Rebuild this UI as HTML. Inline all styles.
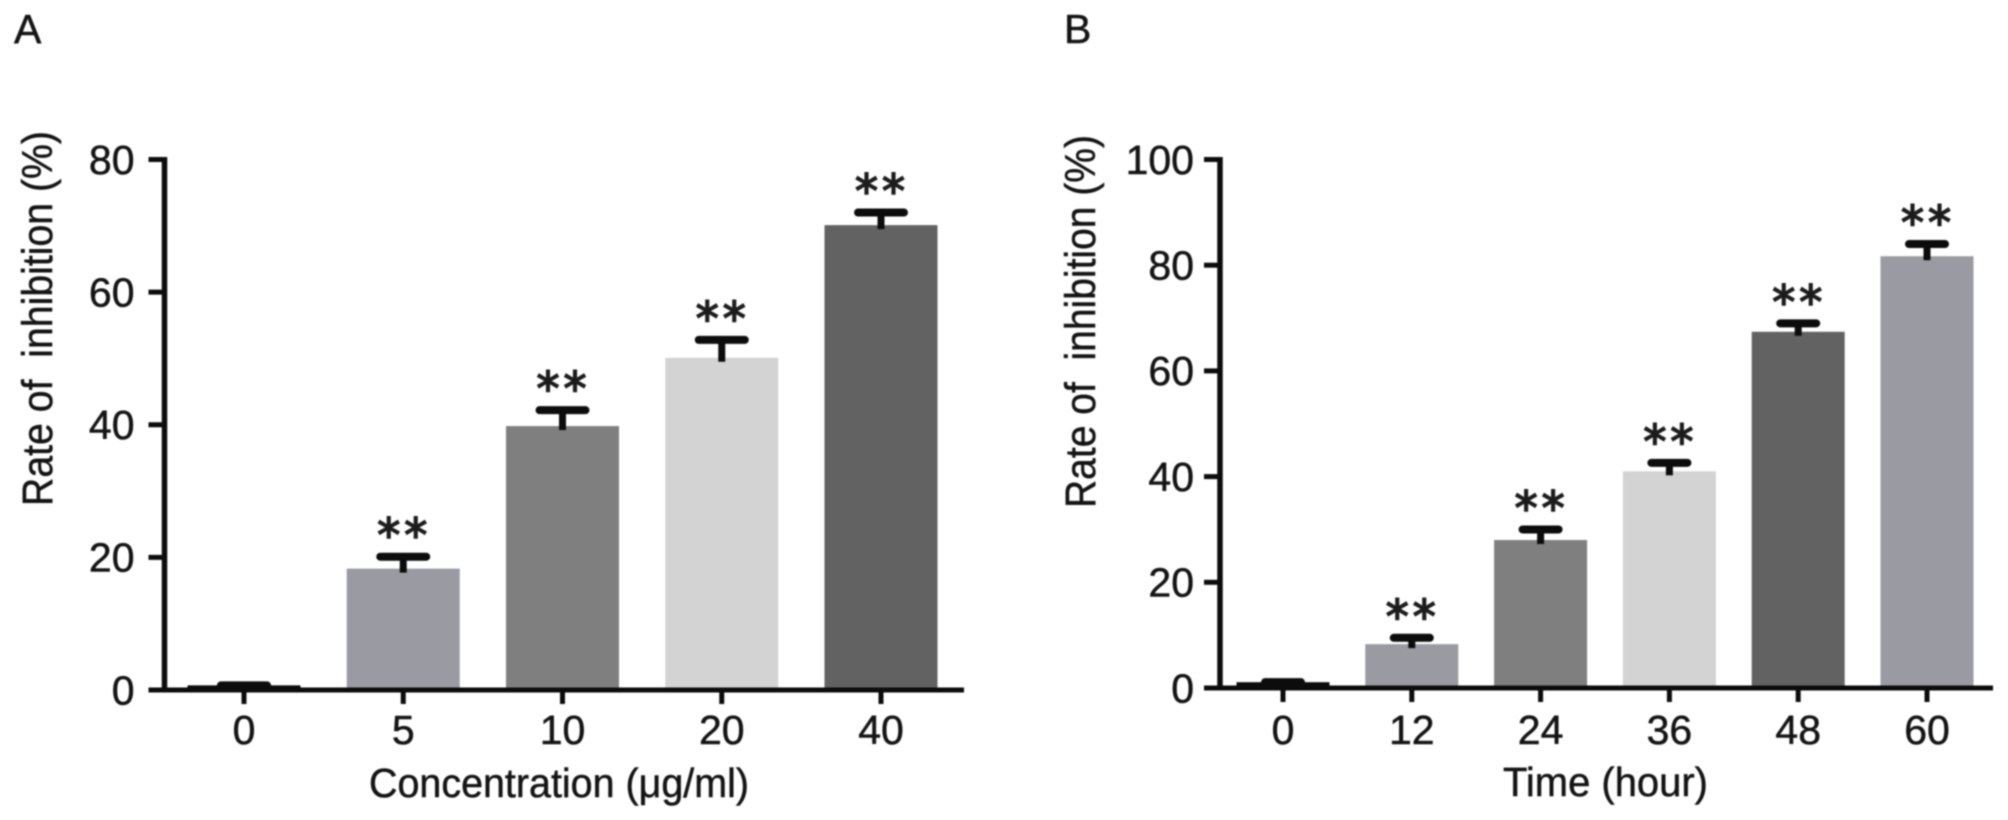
<!DOCTYPE html>
<html lang="en">
<head>
<meta charset="utf-8">
<title>Rate of inhibition charts</title>
<style>
html,body{margin:0;padding:0;background:#fff;width:2008px;height:820px;overflow:hidden}
svg{display:block;filter:blur(0.8px)}
text{font-family:"Liberation Sans",sans-serif;fill:#141414;stroke:#141414;stroke-width:0.5px}
</style>
</head>
<body>
<svg id="figure" width="2008" height="820" viewBox="0 0 2008 820" xmlns="http://www.w3.org/2000/svg">
<rect width="2008" height="820" fill="#fff"/>
<text x="14" y="43" font-size="41">A</text>
<text x="1064" y="43" font-size="41">B</text>
<text transform="translate(52,318.5) rotate(-90)" text-anchor="middle" font-size="43" textLength="375" lengthAdjust="spacingAndGlyphs">Rate of&#160;&#160;inhibition (%)</text>
<text x="559" y="797" text-anchor="middle" font-size="41" textLength="380" lengthAdjust="spacingAndGlyphs">Concentration (μg/ml)</text>
<text transform="translate(1095,321.5) rotate(-90)" text-anchor="middle" font-size="43" textLength="373" lengthAdjust="spacingAndGlyphs">Rate of&#160;&#160;inhibition (%)</text>
<text x="1605.5" y="796" text-anchor="middle" font-size="41" textLength="205" lengthAdjust="spacingAndGlyphs">Time (hour)</text>
<g id="panel-a"></g>
<g id="panel-b"></g>
</svg>
<script>
const categoriesA = ['0', '5', '10', '20', '40'];
const valuesA = [0.7, 18.3, 39.8, 50.1, 70.1];
const errorTopsA = [0.7, 20.1, 42.2, 52.8, 72.0];
const significantA = ['', '**', '**', '**', '**'];
const yTicksA = [0, 20, 40, 60, 80];

const categoriesB = ['0', '12', '24', '36', '48', '60'];
const valuesB = [1.1, 8.3, 28, 41, 67.4, 81.7];
const errorTopsB = [1.1, 9.5, 30, 42.6, 69, 84];
const significantB = ['', '**', '**', '**', '**', '**'];
const yTicksB = [0, 20, 40, 60, 80, 100];

const paletteA = ['#0c0c0c', '#9a9aa2', '#7f7f7f', '#d3d3d3', '#626262'];
const paletteB = ['#0c0c0c', '#9a9aa2', '#7f7f7f', '#d3d3d3', '#626262', '#9a9aa2'];

const SVG_NS = 'http://www.w3.org/2000/svg';

function make(parent, tag, attrs, text) {
  const el = document.createElementNS(SVG_NS, tag);
  for (const key in attrs) el.setAttribute(key, attrs[key]);
  if (text !== undefined) el.textContent = text;
  parent.appendChild(el);
  return el;
}

function drawChart(cfg) {
  const g = document.getElementById(cfg.id);
  const yMax = cfg.yTicks[cfg.yTicks.length - 1];
  const y = v => cfg.y0 - (v / yMax) * (cfg.y0 - cfg.yTop);
  const step = (cfg.xLast - cfg.xFirst) / (cfg.categories.length - 1);
  const x = i => cfg.xFirst + i * step;
  const ink = '#0c0c0c';

  cfg.categories.forEach((cat, i) => {
    const bar = make(g, 'rect', {
      x: x(i) - cfg.barW / 2,
      y: y(cfg.values[i]),
      width: cfg.barW,
      height: cfg.y0 - y(cfg.values[i]),
      fill: cfg.palette[i]
    });
    
    

    const stem = make(g, 'line', {
      x1: x(i), x2: x(i),
      y1: y(cfg.values[i]) + 4,
      y2: y(cfg.errorTops[i]),
      stroke: ink, 'stroke-width': 7
    });
    
    

    const cap = make(g, 'line', {
      x1: x(i) - cfg.capW / 2, x2: x(i) + cfg.capW / 2,
      y1: y(cfg.errorTops[i]), y2: y(cfg.errorTops[i]),
      stroke: ink, 'stroke-width': 8, 'stroke-linecap': 'round'
    });
    
    

    if (cfg.significant[i]) {
      const star = make(g, 'text', {
        x: x(i) + 1,
        y: y(cfg.errorTops[i]) - 5,
        'text-anchor': 'middle',
        'font-size': 46,
        'letter-spacing': 4,
        style: 'font-family:"DejaVu Sans",sans-serif;fill:#1c1c1c;stroke:#1c1c1c;stroke-width:1.6px'
      }, cfg.significant[i]);
      
      
    }

    const tick = make(g, 'line', {
      x1: x(i), x2: x(i), y1: cfg.y0, y2: cfg.y0 + 14,
      stroke: ink, 'stroke-width': 5
    });
    
    

    const label = make(g, 'text', {
      x: x(i), y: 744, 'text-anchor': 'middle', 'font-size': 41
    }, cat);
    
    
  });

  cfg.yTicks.forEach(t => {
    const tick = make(g, 'line', {
      x1: cfg.axisX - 16, x2: cfg.axisX, y1: y(t), y2: y(t),
      stroke: ink, 'stroke-width': 5
    });
    
    

    const label = make(g, 'text', {
      x: cfg.axisX - cfg.labelGap, y: y(t) + 14.3, 'text-anchor': 'end', 'font-size': 41
    }, String(t));
    
    
  });

  const yAxis = make(g, 'line', {
    x1: cfg.axisX, x2: cfg.axisX, y1: cfg.yTop - 2.5, y2: cfg.y0 + 2.5,
    stroke: ink, 'stroke-width': 5.5
  });
  
  

  const xAxis = make(g, 'line', {
    x1: cfg.axisX - 16, x2: cfg.axisEnd, y1: cfg.y0, y2: cfg.y0,
    stroke: ink, 'stroke-width': 5
  });
  
  
}

drawChart({
  id: 'panel-a', categories: categoriesA, values: valuesA, errorTops: errorTopsA,
  significant: significantA, yTicks: yTicksA, palette: paletteA,
  axisX: 164.5, axisEnd: 964, y0: 690, yTop: 159.5, labelGap: 30,
  xFirst: 244, xLast: 881, barW: 113, capW: 46
});
drawChart({
  id: 'panel-b', categories: categoriesB, values: valuesB, errorTops: errorTopsB,
  significant: significantB, yTicks: yTicksB, palette: paletteB,
  axisX: 1220, axisEnd: 1993, y0: 688, yTop: 159.5, labelGap: 26,
  xFirst: 1283, xLast: 1927, barW: 93, capW: 36
});
</script>
</body>
</html>
